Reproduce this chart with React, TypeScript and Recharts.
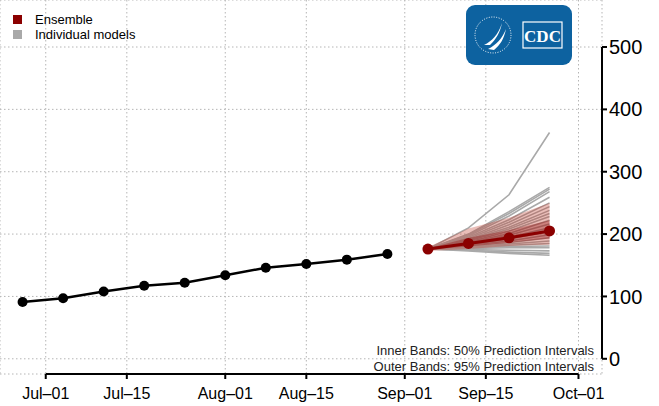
import { ComposedChart, Line, Area, XAxis, YAxis, CartesianGrid, ReferenceLine } from 'recharts'

const FONT = '"Liberation Sans", Arial, sans-serif'
const RED = '#8b0000'
const GRAY = '#a9a9a9'

// observed weekly counts
const observedDates = ['2020-06-27', '2020-07-04', '2020-07-11', '2020-07-18', '2020-07-25', '2020-08-01', '2020-08-08', '2020-08-15', '2020-08-22', '2020-08-29']
const observedValues = [91, 97, 108, 117, 122, 134, 146, 152, 159, 168]

// forecast horizon
const forecastDates = ['2020-09-05', '2020-09-12', '2020-09-19', '2020-09-26']
const ensembleValues = [176, 185, 194, 205]
const outerLow = [173, 176, 181, 183]
const outerHigh = [179, 209, 226, 250]
const innerLow = [175, 180, 186, 193]
const innerHigh = [177, 194, 206, 222]

// individual model trajectories, one row per model
const individualModels = [
  [176, 210, 263, 363],
  [176, 200, 236, 275],
  [176, 199, 233, 272],
  [176, 197, 229, 268],
  [176, 195, 223, 259],
  [176, 193, 219, 250],
  [176, 191, 215, 244],
  [176, 190, 211, 238],
  [176, 189, 208, 233],
  [176, 187, 205, 228],
  [176, 186, 201, 222],
  [176, 185, 198, 216],
  [176, 184, 195, 210],
  [176, 183, 192, 204],
  [176, 182, 189, 199],
  [176, 181, 186, 194],
  [176, 180, 184, 189],
  [176, 179, 182, 185],
  [176, 178, 180, 181],
  [176, 177, 178, 178],
  [176, 175, 174, 173],
  [176, 174, 171, 169],
  [176, 173, 169, 166],
]

const tickDates = ['2020-07-01', '2020-07-15', '2020-08-01', '2020-08-15', '2020-09-01', '2020-09-15', '2020-10-01']
const monthNames = ['Jan', 'Feb', 'Mar', 'Apr', 'May', 'Jun', 'Jul', 'Aug', 'Sep', 'Oct', 'Nov', 'Dec']
const yTicks = [0, 100, 200, 300, 400, 500]

const legendItems = [
  { label: 'Ensemble', color: RED },
  { label: 'Individual models', color: GRAY },
]
const noteLines = ['Inner Bands: 50% Prediction Intervals', 'Outer Bands: 95% Prediction Intervals']

const ORIGIN = Date.UTC(2020, 6, 1)
function toDay(s: string): number {
  const [y, m, d] = s.split('-').map(Number)
  return Math.round((Date.UTC(y, m - 1, d) - ORIGIN) / 86400000)
}
function fmtTick(day: number): string {
  const dt = new Date(ORIGIN + day * 86400000)
  return `${monthNames[dt.getUTCMonth()]}–${String(dt.getUTCDate()).padStart(2, '0')}`
}

const X_MIN = -7.9
const X_MAX = 96.06
const Y_MIN = -24.4
const Y_MAX = 575.4

const data: Record<string, unknown>[] = [
  ...observedDates.map((d, i) => ({ x: toDay(d), observed: observedValues[i] })),
  ...forecastDates.map((d, i) => {
    const row: Record<string, unknown> = {
      x: toDay(d),
      ensemble: ensembleValues[i],
      outer: [outerLow[i], outerHigh[i]],
      inner: [innerLow[i], innerHigh[i]],
    }
    individualModels.forEach((m, j) => { row[`m${j}`] = m[i] })
    return row
  }),
]

export default function App() {
  return (
    <div style={{ position: 'absolute', left: 0, top: 0, width: 659, height: 406, fontFamily: FONT }}>
      <ComposedChart width={659} height={406} data={data} margin={{ top: 0, right: 0, bottom: 0, left: 0 }} style={{ fontFamily: FONT }}>
        <CartesianGrid stroke="#b5b5b5" strokeDasharray="1.5 2.5" strokeWidth={1} />
        <XAxis
          dataKey="x"
          type="number"
          domain={[X_MIN, X_MAX]}
          ticks={tickDates.map(toDay)}
          tickFormatter={fmtTick}
          axisLine={false}
          tickLine={{ stroke: '#000', strokeWidth: 2 }}
          tickSize={5}
          tickMargin={9}
          height={32}
          tick={{ fill: '#000', fontSize: 16, fontFamily: FONT }}
          interval={0}
        />
        <YAxis
          orientation="right"
          type="number"
          domain={[Y_MIN, Y_MAX]}
          ticks={yTicks}
          axisLine={false}
          tickLine={{ stroke: '#000', strokeWidth: 2 }}
          tickSize={5}
          tickMargin={2}
          width={57}
          tick={{ fill: '#000', fontSize: 20, fontFamily: FONT, textAnchor: 'start' }}
          interval={0}
        />
        {individualModels.map((_, j) => (
          <Line key={j} dataKey={`m${j}`} stroke={GRAY} strokeWidth={1.6} dot={false} activeDot={false} isAnimationActive={false} />
        ))}
        <Area dataKey="outer" stroke="none" fill="#c0392b" fillOpacity={0.33} activeDot={false} isAnimationActive={false} zIndex={450} />
        <Area dataKey="inner" stroke="none" fill="#8b0000" fillOpacity={0.32} activeDot={false} isAnimationActive={false} zIndex={460} />
        <Line dataKey="observed" stroke="#000" strokeWidth={2.5} dot={{ r: 5, fill: '#000', stroke: '#000', strokeWidth: 0 }} activeDot={false} isAnimationActive={false} zIndex={500} />
        <Line dataKey="ensemble" stroke={RED} strokeWidth={3} dot={{ r: 5.5, fill: RED, stroke: RED, strokeWidth: 0 }} activeDot={false} isAnimationActive={false} zIndex={510} />
        <ReferenceLine segment={[{ x: 0, y: Y_MIN }, { x: 92, y: Y_MIN }]} stroke="#000" strokeWidth={2} ifOverflow="visible" />
        <ReferenceLine segment={[{ x: X_MAX, y: 0 }, { x: X_MAX, y: 500 }]} stroke="#000" strokeWidth={2} ifOverflow="visible" />
      </ComposedChart>

      {/* legend */}
      <div style={{ position: 'absolute', left: 13, top: 12, fontSize: 13, color: '#000', lineHeight: '15px' }}>
        {legendItems.map(it => (
          <div key={it.label} style={{ display: 'flex', alignItems: 'center' }}>
            <span style={{ width: 9, height: 9, background: it.color, display: 'inline-block', marginRight: 13 }} />
            <span>{it.label}</span>
          </div>
        ))}
      </div>

      {/* notes */}
      <div style={{ position: 'absolute', right: 65, top: 343, fontSize: 13, color: '#222', lineHeight: '16px', textAlign: 'right' }}>
        {noteLines.map(t => <div key={t}>{t}</div>)}
      </div>

      {/* CDC logo */}
      <svg style={{ position: 'absolute', left: 466, top: 5 }} width={106} height={60}>
        <rect x={0} y={0} width={106} height={60} rx={9} fill="#0d62a0" />
        <circle cx={27} cy={30} r={18} fill="none" stroke="#fff" strokeWidth={1} strokeDasharray="1 1.5" />
        <path d="M18 40 C26 36 32 30 36 18 C34 28 30 34 24 40 Z" fill="#fff" />
        <path d="M22 44 C30 40 36 34 40 24 C38 34 34 40 28 45 Z" fill="#fff" />
        <rect x={57} y={17} width={39} height={26} fill="none" stroke="#fff" strokeWidth={1.2} />
        <text x={76.5} y={37} textAnchor="middle" fill="#fff" fontSize={17} fontWeight="bold" fontFamily='"Liberation Serif", serif'>CDC</text>
      </svg>
    </div>
  )
}
